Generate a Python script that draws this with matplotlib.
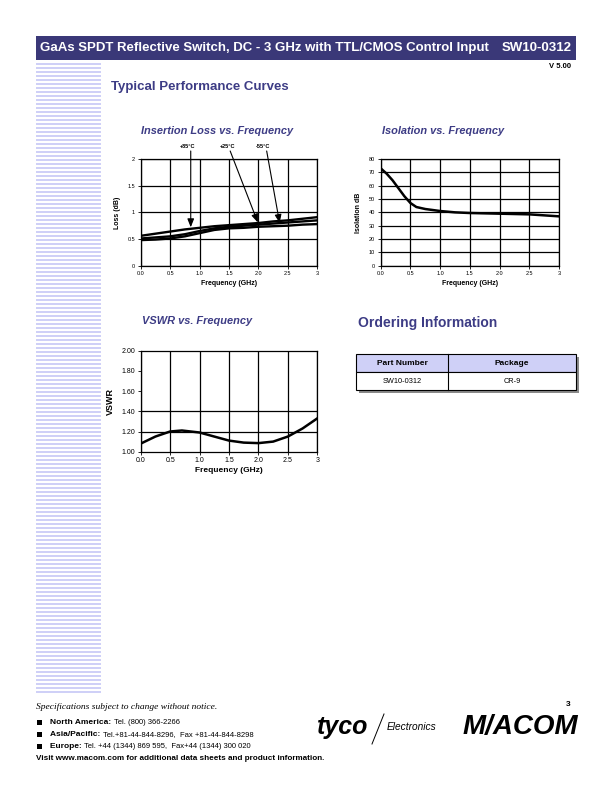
import matplotlib
matplotlib.use("Agg")
import matplotlib.pyplot as plt
from matplotlib.patches import Rectangle
import numpy as np

plt.rcParams['font.family'] = ['Liberation Sans', 'DejaVu Sans']

NAVY = '#3a3878'
TITLE = '#3d3c85'
LAV = '#cfd0f7'

# ---- data ----
il_freq = [0, 0.25, 0.5, 0.75, 1.0, 1.25, 1.5, 1.75, 2.0, 2.25, 2.5, 2.75, 3.0]
il_p85 = [0.56, 0.60, 0.64, 0.68, 0.71, 0.74, 0.76, 0.78, 0.80, 0.83, 0.85, 0.88, 0.91]
il_p25 = [0.51, 0.53, 0.55, 0.59, 0.65, 0.70, 0.73, 0.75, 0.77, 0.79, 0.81, 0.83, 0.85]
il_m55 = [0.48, 0.49, 0.51, 0.55, 0.61, 0.67, 0.70, 0.71, 0.73, 0.74, 0.75, 0.77, 0.78]

iso_freq = [0, 0.1, 0.2, 0.3, 0.4, 0.5, 0.6, 0.75, 1.0, 1.25, 1.5, 2.0, 2.5, 3.0]
iso_db = [73, 69, 64, 58, 52, 47, 44, 42.5, 41, 40, 39.5, 39, 38.5, 37]

vswr_freq = [0, 0.25, 0.5, 0.7, 1.0, 1.25, 1.5, 1.75, 2.0, 2.25, 2.5, 2.75, 3.0]
vswr = [1.08, 1.15, 1.20, 1.21, 1.19, 1.15, 1.11, 1.09, 1.085, 1.10, 1.15, 1.23, 1.33]

order_cols = ['Part Number', 'Package']
order_rows = [['SW10-0312', 'CR-9']]

W, H = 612, 792
fig = plt.figure(figsize=(W / 100, H / 100), dpi=100)

# page-level axes in pixel coordinates
bg = fig.add_axes([0, 0, 1, 1])
bg.set_xlim(0, W)
bg.set_ylim(H, 0)
bg.axis('off')

# header bar
bg.add_patch(Rectangle((36, 36), 540, 24, color=NAVY, lw=0))
bg.text(40, 48, 'GaAs SPDT Reflective Switch, DC - 3 GHz with TTL/CMOS Control Input',
        color='white', fontsize=9.5, fontweight='bold', va='center')
bg.text(572, 48, 'SW10-0312', color='white', fontsize=9.5, fontweight='bold',
        va='center', ha='right')
bg.text(571, 67, 'V 5.00', fontsize=5.5, fontweight='bold', ha='right', va='center')

# stripes down the left side
y = 62.5
while y < 694:
    bg.add_patch(Rectangle((36, y), 65, 2, color=LAV, lw=0))
    y += 4

bg.text(111, 87, 'Typical Performance Curves', color=TITLE, fontsize=9.5,
        fontweight='bold', va='center')
bg.text(217, 131, 'Insertion Loss vs. Frequency', color=TITLE, fontsize=7.9,
        fontweight='bold', style='italic', ha='center', va='center')
bg.text(443, 131, 'Isolation vs. Frequency', color=TITLE, fontsize=7.9,
        fontweight='bold', style='italic', ha='center', va='center')
bg.text(197, 321, 'VSWR vs. Frequency', color=TITLE, fontsize=7.9,
        fontweight='bold', style='italic', ha='center', va='center')
bg.text(358, 323, 'Ordering Information', color=TITLE, fontsize=10,
        fontweight='bold', va='center')

# ordering table
tx, ty, tw, rh, split = 356, 354, 220, 18, 448
bg.add_patch(Rectangle((tx + 3, ty + 3), tw, rh * 2, color='#8a8a8a', lw=0))
bg.add_patch(Rectangle((tx, ty), tw, rh, facecolor=LAV, edgecolor='black', lw=0.8))
bg.add_patch(Rectangle((tx, ty + rh), tw, rh, facecolor='white', edgecolor='black', lw=0.8))
bg.plot([split, split], [ty, ty + 2 * rh], color='black', lw=0.8)
centers = [(tx + split) / 2, (split + tx + tw) / 2]
for c, name in zip(centers, order_cols):
    bg.text(c, ty + rh / 2 + 0.5, name, fontsize=6, fontweight='bold', ha='center', va='center')
for r, row in enumerate(order_rows):
    for c, val in zip(centers, row):
        bg.text(c, ty + rh * (r + 1.5) + 0.5, val, fontsize=5.3, ha='center', va='center')

# footer
bg.text(36, 707, 'Specifications subject to change without notice.', fontsize=6.8,
        style='italic', family='Liberation Serif', va='center')
bg.text(568, 704, '3', fontsize=6, fontweight='bold', ha='center', va='center')
contacts = [('North America:', 'Tel. (800) 366-2266', 722.5),
            ('Asia/Pacific:', 'Tel.+81-44-844-8296,  Fax +81-44-844-8298', 734.5),
            ('Europe:', 'Tel. +44 (1344) 869 595,  Fax+44 (1344) 300 020', 746.5)]
for head, rest, yy in contacts:
    bg.add_patch(Rectangle((37, yy - 2.5), 5, 5, color='black', lw=0))
    t = bg.text(50, yy, head + ' ', fontsize=6, fontweight='bold', va='center')
    bg.annotate(rest, xycoords=t, xy=(1, 0.5), va='center', fontsize=5.5)
bg.text(36, 758.5, 'Visit www.macom.com for additional data sheets and product information.',
        fontsize=5.85, fontweight='bold', va='center')
bg.text(317, 727, 'tyco', fontsize=18, fontweight='heavy', style='italic', va='center')
bg.plot([384, 372], [714, 744], color='black', lw=0.7)
bg.text(387, 727, 'Electronics', fontsize=7.3, style='italic', va='center')
bg.text(520, 727, 'M/ACOM', fontsize=20, fontweight='heavy', style='italic',
        ha='center', va='center')


def chart_axes(left, top, right, bottom):
    ax = fig.add_axes([left / W, 1 - bottom / H, (right - left) / W, (bottom - top) / H])
    for s in ax.spines.values():
        s.set_linewidth(0.9)
        s.set_color('black')
    ax.tick_params(length=2, width=0.6, labelsize=4, pad=2)
    ax.set_xlim(0, 3)
    return ax


freq_ticks = [0, 0.5, 1.0, 1.5, 2.0, 2.5, 3]
freq_labels = ['0.0', '0.5', '1.0', '1.5', '2.0', '2.5', '3']

# insertion loss
ax1 = chart_axes(140.7, 159, 317.3, 265.7)
ax1.set_ylim(0, 2)
ax1.set_yticks([0, 0.5, 1, 1.5, 2])
ax1.set_yticklabels(['0', '0.5', '1', '1.5', '2'])
ax1.set_xticks(freq_ticks)
ax1.set_xticklabels(freq_labels)
ax1.grid(True, color='black', lw=0.9)
for series in (il_p85, il_p25, il_m55):
    ax1.plot(il_freq, series, color='black', lw=1.7, solid_capstyle='butt')
ax1.set_xlabel('Frequency (GHz)', fontsize=5, fontweight='bold', labelpad=3)
ax1.set_ylabel('Loss (dB)', fontsize=5, fontweight='bold', labelpad=5)
arrows = [('+85°C', (0.79, 2.24), (0.85, 2.15), (0.85, 0.72)),
          ('+25°C', (1.47, 2.24), (1.52, 2.15), (1.99, 0.81)),
          ('-55°C', (2.08, 2.24), (2.14, 2.15), (2.36, 0.80))]
for lab, tpos, start, tip in arrows:
    ax1.text(*tpos, lab, fontsize=4, fontweight='bold', ha='center', va='center', clip_on=False)
    ax1.annotate('', xy=tip, xytext=start, annotation_clip=False,
                 arrowprops=dict(arrowstyle='-|>,head_length=0.5,head_width=0.2',
                                 color='black', lw=0.8, shrinkA=0, shrinkB=0))

# isolation
ax2 = chart_axes(380.7, 159, 559, 265.7)
ax2.set_ylim(0, 80)
ax2.set_yticks(range(0, 81, 10))
ax2.set_xticks(freq_ticks)
ax2.set_xticklabels(freq_labels)
ax2.grid(True, color='black', lw=0.9)
ax2.plot(iso_freq, iso_db, color='black', lw=1.8)
ax2.set_xlabel('Frequency (GHz)', fontsize=5, fontweight='bold', labelpad=3)
ax2.set_ylabel('Isolation dB', fontsize=5, fontweight='bold', labelpad=5)

# vswr
ax3 = chart_axes(140.7, 350.7, 317.3, 451.7)
ax3.set_ylim(1.0, 2.0)
ax3.set_yticks(np.arange(1.0, 2.01, 0.2))
ax3.set_yticklabels(['%.2f' % v for v in np.arange(1.0, 2.01, 0.2)])
ax3.set_xticks(freq_ticks)
ax3.set_xticklabels(freq_labels)
ax3.tick_params(labelsize=5)
ax3.grid(True, axis='x', color='black', lw=0.9)
for h in (1.2, 1.4):
    ax3.axhline(h, color='black', lw=0.9)
ax3.plot(vswr_freq, vswr, color='black', lw=1.8)
ax3.set_xlabel('Frequency (GHz)', fontsize=6, fontweight='bold', labelpad=2)
ax3.set_ylabel('VSWR', fontsize=6.5, fontweight='bold', labelpad=5)

fig.savefig('out.png', dpi=100)
